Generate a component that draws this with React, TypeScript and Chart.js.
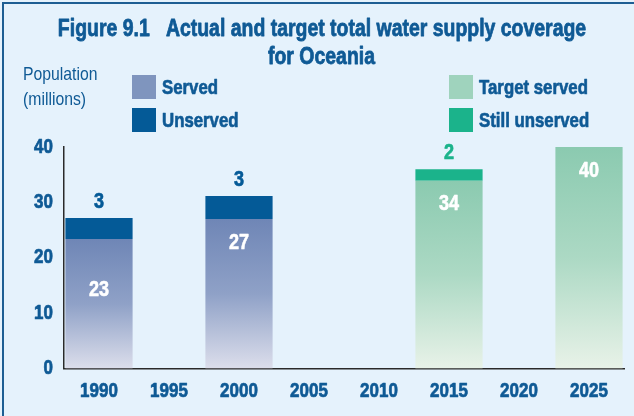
import React, { useEffect, useRef } from "react";
import { Chart, registerables } from "chart.js";

Chart.register(...registerables);

const years = ["1990", "1995", "2000", "2005", "2010", "2015", "2020", "2025"];
const served = [23.4, null, 27.0, null, null, null, null, null];
const unserved = [3.8, null, 4.15, null, null, null, null, null];
const targetServed = [null, null, null, null, null, 33.9, null, 40];
const stillUnserved = [null, null, null, null, null, 2.1, null, null];
const servedLabels = ["23", null, "27", null, null, null, null, null];
const unservedLabels = ["3", null, "3", null, null, null, null, null];
const targetServedLabels = [null, null, null, null, null, "34", null, "40"];
const stillUnservedLabels = [null, null, null, null, null, "2", null, null];
const yTicks = [0, 10, 20, 30, 40];
const titleLines = ["Figure 9.1   Actual and target total water supply coverage", "for Oceania"];
const yTitleLines = ["Population", "(millions)"];

const FONT = "'Liberation Sans', Arial, sans-serif";
const BLUE_TEXT = "#0f5a95";
const DARK_BLUE = "#045a97";
const GREEN = "#1bb38b";
const BG = "#e5f2fc";

function drawText(c: any, text: string, x: number, y: number, font: string, sx: number, align: string, baseline: string, stroke = 0) {
  c.save();
  c.font = font;
  c.textAlign = align;
  c.textBaseline = baseline;
  c.translate(x, y);
  c.scale(sx, 1);
  c.fillText(text, 0, 0);
  if (stroke > 0) {
    c.strokeStyle = c.fillStyle;
    c.lineWidth = stroke;
    c.lineJoin = "round";
    c.strokeText(text, 0, 0);
  }
  c.restore();
}

function gradientFor(ctx: any, stops: string[]) {
  const chart = ctx.chart;
  const area = chart.chartArea;
  const v = ctx.raw;
  if (!area || v == null) return stops[0];
  const y = chart.scales.y;
  const top = y.getPixelForValue(v);
  const bottom = y.getPixelForValue(0);
  const g = chart.ctx.createLinearGradient(0, top, 0, bottom);
  stops.forEach((col, i) => g.addColorStop(i / (stops.length - 1), col));
  return g;
}

const decorPlugin = {
  id: "decor",
  beforeDraw(chart: any) {
    const c = chart.ctx;
    c.save();
    c.fillStyle = BG;
    c.fillRect(0, 0, chart.width, chart.height);
    c.fillStyle = "#1d5e93";
    c.fillRect(2, 2, chart.width - 2, 2);
    c.fillRect(2, 2, 2, chart.height - 2);
    c.fillStyle = BLUE_TEXT;
    drawText(c, titleLines[0], 322, 35.7, `bold 24px ${FONT}`, 0.81, "center", "alphabetic", 0.8);
    drawText(c, titleLines[1], 321.5, 64, `bold 24px ${FONT}`, 0.81, "center", "alphabetic", 0.8);
    drawText(c, yTitleLines[0], 23, 75, `19px ${FONT}`, 0.83, "left", "middle");
    drawText(c, yTitleLines[1], 23, 100, `19px ${FONT}`, 0.83, "left", "middle");
    const items = [
      { label: "Served", color: "#7f95be", x: 132, y: 75 },
      { label: "Unserved", color: DARK_BLUE, x: 132, y: 108 },
      { label: "Target served", color: "#9fd3bd", x: 449, y: 75 },
      { label: "Still unserved", color: GREEN, x: 449, y: 108 },
    ];
    items.forEach((it) => {
      c.fillStyle = it.color;
      c.fillRect(it.x, it.y, 24, 24);
      c.fillStyle = BLUE_TEXT;
      drawText(c, it.label, it.x + 30, it.y + 13, `bold 21px ${FONT}`, 0.8, "left", "middle", 0.7);
    });
    c.restore();
  },
  afterDraw(chart: any) {
    const c = chart.ctx;
    const xs = chart.scales.x;
    const ys = chart.scales.y;
    c.save();
    c.fillStyle = BLUE_TEXT;
    years.forEach((lab, i) => {
      drawText(c, lab, xs.getPixelForValue(i), 391, `bold 20px ${FONT}`, 0.85, "center", "middle", 0.7);
    });
    yTicks.forEach((v) => {
      drawText(c, String(v), 53, ys.getPixelForValue(v), `bold 20px ${FONT}`, 0.85, "right", "middle", 0.7);
    });
    c.restore();
  },
  afterDatasetsDraw(chart: any, _args: any, opts: any) {
    const c = chart.ctx;
    c.save();
    chart.data.datasets.forEach((ds: any, di: number) => {
      const meta = chart.getDatasetMeta(di);
      meta.data.forEach((bar: any, i: number) => {
        const lab = ds.valueLabels[i];
        if (lab == null) return;
        if (ds.inner) {
          c.fillStyle = "#ffffff";
          const off = opts.innerOffsets[i] ?? 24;
          drawText(c, lab, bar.x, bar.y + off, `bold 22px ${FONT}`, 0.82, "center", "middle", 0.6);
        } else {
          c.fillStyle = ds.labelColor;
          drawText(c, lab, bar.x, bar.y - 16, `bold 22px ${FONT}`, 0.82, "center", "middle", 0.7);
        }
      });
    });
    c.restore();
  },
};

export default function App() {
  const ref = useRef<HTMLCanvasElement>(null);
  useEffect(() => {
    document.body.style.margin = "0";
    const chart = new Chart(ref.current!, {
      type: "bar",
      data: {
        labels: years,
        datasets: [
          {
            label: "Served",
            data: served,
            valueLabels: servedLabels,
            inner: true,
            backgroundColor: (ctx: any) => gradientFor(ctx, ["#6f86b6", "#8fa1c7", "#dcdeeb"]),
            stack: "s",
          } as any,
          {
            label: "Unserved",
            data: unserved,
            valueLabels: unservedLabels,
            labelColor: DARK_BLUE,
            backgroundColor: DARK_BLUE,
            stack: "s",
          } as any,
          {
            label: "Target served",
            data: targetServed,
            valueLabels: targetServedLabels,
            inner: true,
            backgroundColor: (ctx: any) => gradientFor(ctx, ["#8bcab0", "#acd9c4", "#e8f2e8"]),
            stack: "s",
          } as any,
          {
            label: "Still unserved",
            data: stillUnserved,
            valueLabels: stillUnservedLabels,
            labelColor: GREEN,
            backgroundColor: GREEN,
            stack: "s",
          } as any,
        ],
      },
      options: {
        responsive: false,
        animation: false,
        events: [],
        layout: { padding: { top: 147, right: 10, left: 0, bottom: 0 } },
        datasets: { bar: { barPercentage: 0.96, categoryPercentage: 1, borderWidth: 0 } },
        plugins: {
          legend: { display: false },
          tooltip: { enabled: false },
          title: { display: false },
          decor: { innerOffsets: [51, 24, 24, 24, 24, 23, 24, 24] },
        } as any,
        scales: {
          x: {
            stacked: true,
            grid: { display: false, drawTicks: false },
            border: { display: true, color: "#2a2a2a", width: 1.5 },
            ticks: { display: false },
            afterFit: (s: any) => { s.height = 47.5; },
          },
          y: {
            stacked: true,
            min: 0,
            max: 40,
            afterBuildTicks: (s: any) => { s.ticks = yTicks.map((v) => ({ value: v })); },
            grid: { display: false, drawTicks: false },
            border: { display: true, color: "#2a2a2a", width: 1.5 },
            ticks: { display: false },
            afterFit: (s: any) => { s.width = 64; },
          },
        },
      },
      plugins: [decorPlugin],
    } as any);
    return () => chart.destroy();
  }, []);
  return (
    <div style={{ width: 634, height: 416 }}>
      <canvas ref={ref} width={634} height={416} />
    </div>
  );
}
